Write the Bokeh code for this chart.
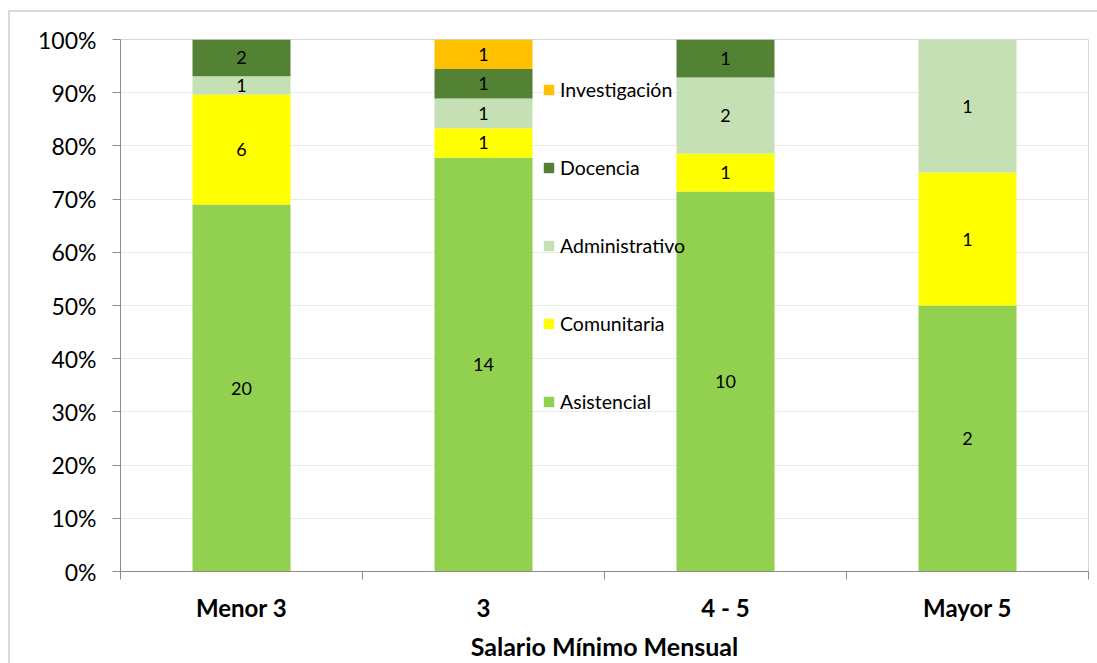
from bokeh.plotting import figure
from bokeh.models import (ColumnDataSource, FixedTicker, NumeralTickFormatter,
                          Legend, LegendItem, LabelSet, Range1d, InlineStyleSheet)
from bokeh.core.properties import value
from bokeh.embed import file_html
from bokeh.resources import INLINE

# Number of people per salary band and type of activity
categories = ["Menor 3", "3", "4 - 5", "Mayor 5"]
series = ["Asistencial", "Comunitaria", "Administrativo", "Docencia", "Investigación"]
asistencial = [20, 14, 10, 2]
comunitaria = [6, 1, 1, 1]
administrativo = [1, 1, 2, 1]
docencia = [2, 1, 1, 0]
investigacion = [0, 1, 0, 0]
colors = ["#92D050", "#FFFF00", "#C5E0B4", "#548235", "#FFC000"]
y_ticks = [0.0, 0.1, 0.2, 0.3, 0.4, 0.5, 0.6, 0.7, 0.8, 0.9, 1.0]

FONT = "Lato"
counts = [asistencial, comunitaria, administrativo, docencia, investigacion]
totals = [sum(c[i] for c in counts) for i in range(len(categories))]
xs = [i + 0.5 for i in range(len(categories))]

data = {"x": xs}
for name, vals in zip(series, counts):
    data[name] = [v / t for v, t in zip(vals, totals)]
source = ColumnDataSource(data)

# segment labels at the middle of each non-empty segment
lx, ly, lt = [], [], []
for i in range(len(categories)):
    base = 0.0
    for vals in counts:
        frac = vals[i] / totals[i]
        if vals[i] > 0:
            lx.append(xs[i])
            ly.append(base + frac / 2)
            lt.append(str(vals[i]))
        base += frac
labels_src = ColumnDataSource(dict(x=lx, y=ly, text=lt))

p = figure(width=1097, height=663, output_backend="svg", toolbar_location=None,
           x_range=Range1d(0, len(categories)), y_range=Range1d(0, 1),
           min_border_left=120, min_border_right=9, min_border_top=39,
           min_border_bottom=91)
p.outline_line_color = "#D9D9D9"
p.background_fill_color = "white"
p.border_fill_color = "white"

# outer chart border along the top and left edges
p.stylesheets = [InlineStyleSheet(css="""
:host { position: relative; }
:host::after {
  content: ""; position: absolute; left: 8px; top: 10px;
  width: 2000px; height: 2000px; box-sizing: border-box;
  border: 2px solid #D9D9D9; pointer-events: none;
}
""")]

renderers = p.vbar_stack(series, x="x", width=0.405, source=source,
                         color=colors, line_color=None)

p.add_layout(LabelSet(x="x", y="y", text="text", source=labels_src,
                      text_align="center", text_baseline="middle",
                      text_font=value(FONT), text_font_size="18px",
                      text_color="#000000"))

# axes
p.xgrid.visible = False
p.ygrid.grid_line_color = "#E9E9E9"
p.ygrid.ticker = FixedTicker(ticks=y_ticks[1:])

p.yaxis.ticker = FixedTicker(ticks=y_ticks)
p.yaxis.formatter = NumeralTickFormatter(format="0%")
p.yaxis.major_label_text_font = FONT
p.yaxis.major_label_text_font_size = "23px"
p.yaxis.major_label_text_color = "#000000"
p.yaxis.major_tick_out = 8
p.yaxis.major_tick_in = 0
p.yaxis.minor_tick_line_color = None
p.yaxis.major_label_standoff = 16
p.yaxis.axis_line_color = "#8C8C8C"
p.yaxis.major_tick_line_color = "#8C8C8C"

p.xaxis.ticker = FixedTicker(ticks=xs, minor_ticks=list(range(len(categories) + 1)))
p.xaxis.major_label_overrides = {x: c for x, c in zip(xs, categories)}
p.xaxis.major_tick_out = 0
p.xaxis.major_tick_in = 0
p.xaxis.minor_tick_out = 8
p.xaxis.minor_tick_in = 0
p.xaxis.minor_tick_line_color = "#8C8C8C"
p.xaxis.axis_line_color = "#8C8C8C"
p.xaxis.major_label_text_font = FONT
p.xaxis.major_label_text_font_style = "bold"
p.xaxis.major_label_text_font_size = "24px"
p.xaxis.major_label_text_color = "#000000"
p.xaxis.major_label_standoff = 13
p.xaxis.axis_label = "Salario Mínimo Mensual"
p.xaxis.axis_label_text_font = FONT
p.xaxis.axis_label_text_font_style = "bold"
p.xaxis.axis_label_text_font_size = "25px"
p.xaxis.axis_label_text_color = "#000000"
p.xaxis.axis_label_standoff = 6

# legend, top entry = last stacked series
items = [LegendItem(label=name, renderers=[r]) for name, r in zip(series, renderers)]
legend = Legend(items=items[::-1], location=(422, 158), padding=0, margin=0,
                spacing=54, label_height=24, glyph_height=13, glyph_width=13,
                label_standoff=5, border_line_color=None, background_fill_alpha=0,
                label_text_font=FONT, label_text_font_size="19.5px",
                label_text_color="#000000")
p.add_layout(legend)

open("out.html", "w").write(file_html(p, INLINE))
